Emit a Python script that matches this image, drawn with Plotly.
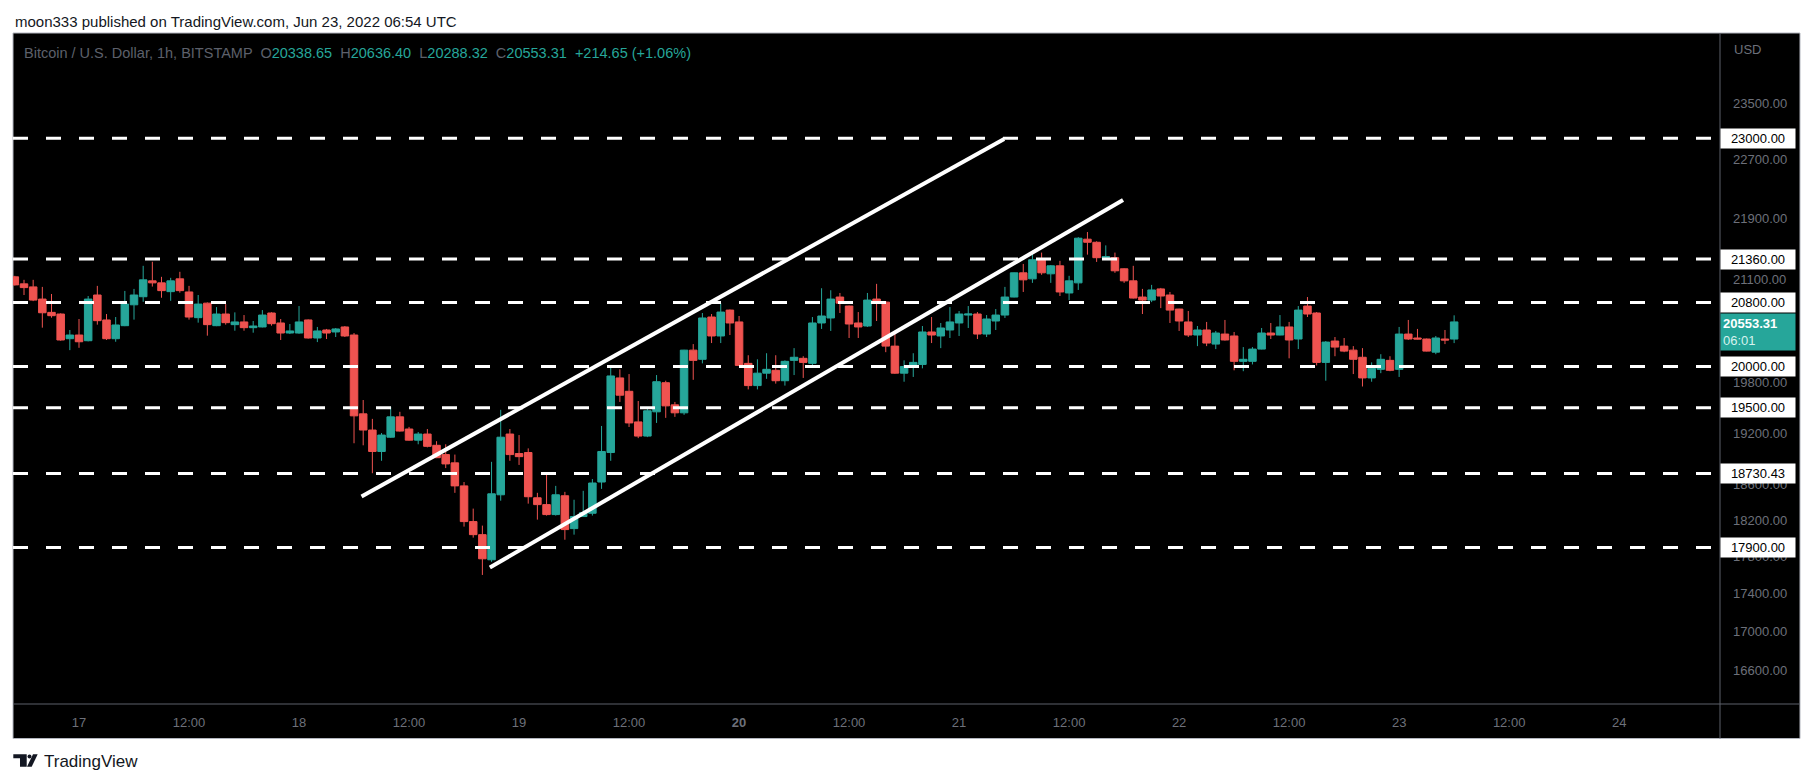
import numpy as np
import pandas as pd
import plotly.graph_objects as go

# BTCUSD 1h, BITSTAMP -- candles from 16 Jun 17:00 to 23 Jun 06:00 UTC
t_start = "2022-06-16 17:00"

opens = [21129, 21038, 20999, 20843, 20674, 20653, 20343, 20389, 20318, 20895,
         20578, 20343, 20506, 20770, 20873, 21077, 21051, 20938, 21103, 20934,
         20607, 20791, 20506, 20653, 20519, 20553, 20481, 20490, 20666, 20540,
         20414, 20414, 20578, 20352, 20452, 20427, 20490, 20389, 19428, 19236,
         18985, 19152, 19392, 19248, 19117, 19189, 19057, 18949, 18853, 18589,
         18187, 18042, 17766, 18488, 19189, 18961, 18973, 18454, 18377, 18265,
         18477, 18109, 18243, 18280, 18633, 18973, 19860, 19698, 19332, 19165,
         19452, 19802, 19535, 19440, 20201, 20088, 20615, 20377, 20703, 20553,
         20038, 19767, 19918, 19953, 19826, 20075, 20100, 20038, 20540, 20603,
         20869, 20754, 20540, 20502, 20843, 20804, 20251, 19918, 20000, 20025,
         20427, 20377, 20452, 20540, 20640, 20653, 20401, 20565, 20640, 20869,
         21181, 21103, 21351, 21168, 21272, 20921, 21051, 21622, 21581, 21378,
         21378, 21233, 21077, 20869, 20830, 20973, 20895, 20716, 20553, 20389,
         20452, 20276, 20401, 20377, 20063, 20063, 20214, 20414, 20389, 20490,
         20339, 20754, 20666, 20050, 20314, 20251, 20201, 20113, 19860, 19965,
         20075, 19965, 20401, 20352, 20339, 20176, 20339, 20338.65]
highs = [21142, 21090, 21090, 20999, 20908, 20662, 20452, 20590, 20882, 21012,
         20653, 20615, 20947, 20973, 21272, 21325, 21129, 21116, 21194, 21012,
         20895, 20800, 20741, 20779, 20674, 20640, 20565, 20703, 20675, 20590,
         20527, 20754, 20585, 20490, 20465, 20477, 20502, 20414, 19593, 19368,
         19201, 19512, 19452, 19273, 19213, 19248, 19105, 19069, 18949, 18633,
         18332, 18142, 18865, 19476, 19248, 19177, 19021, 18510, 18733, 18589,
         18521, 18432, 18533, 18667, 19284, 20000, 19965, 19907, 19581, 19488,
         19895, 19826, 19570, 20205, 20276, 20666, 20653, 20791, 20710, 20628,
         20138, 20088, 20163, 20138, 20075, 20226, 20126, 20615, 20982, 20956,
         20921, 20760, 20678, 20921, 21038, 20817, 20414, 20075, 20163, 20502,
         20615, 20540, 20741, 20691, 20754, 20678, 20640, 20716, 20999, 21185,
         21296, 21472, 21445, 21283, 21337, 21142, 21649, 21717, 21594, 21540,
         21445, 21240, 21272, 20973, 21025, 20986, 20934, 20720, 20691, 20502,
         20553, 20440, 20578, 20427, 20239, 20239, 20477, 20540, 20640, 20553,
         20754, 20869, 20678, 20314, 20364, 20352, 20251, 20226, 20050, 20151,
         20126, 20490, 20578, 20465, 20345, 20377, 20452, 20636.40]
lows = [21016, 20895, 20817, 20481, 20607, 20318, 20201, 20230, 20310, 20519,
        20327, 20305, 20500, 20582, 20808, 21003, 20860, 20821, 20925, 20582,
        20544, 20381, 20500, 20519, 20443, 20443, 20418, 20485, 20506, 20327,
        20401, 20405, 20345, 20301, 20339, 20364, 20364, 19081, 19057, 18734,
        18877, 19145, 19218, 19112, 19069, 19033, 18908, 18793, 18510, 18131,
        18009, 17602, 17744, 18421, 18877, 18829, 18388, 18209, 18254, 18254,
        17986, 18042, 18238, 18254, 18555, 18877, 19570, 19272, 19141, 19153,
        19320, 19380, 19392, 19416, 19837, 20038, 20289, 20289, 20389, 20005,
        19721, 19721, 19849, 19791, 19767, 19895, 19860, 19995, 20465, 20440,
        20666, 20352, 20352, 20490, 20565, 20176, 19910, 19814, 19872, 19977,
        20289, 20226, 20352, 20377, 20477, 20339, 20364, 20452, 20603, 20865,
        20934, 21051, 21155, 21051, 20882, 20830, 20960, 21418, 21323, 21351,
        21181, 21051, 20850, 20653, 20804, 20728, 20540, 20440, 20364, 20251,
        20251, 20214, 20320, 19953, 19942, 20025, 20210, 20339, 20385, 20100,
        20214, 20615, 20013, 19826, 20126, 20176, 19907, 19756, 19814, 19918,
        19942, 19872, 20327, 20335, 20185, 20151, 20276, 20288.32]
closes = [21025, 20990, 20830, 20669, 20632, 20327, 20389, 20305, 20843, 20569,
          20343, 20515, 20779, 20895, 21090, 21051, 20951, 21077, 20951, 20615,
          20779, 20519, 20653, 20544, 20553, 20481, 20502, 20640, 20531, 20414,
          20440, 20553, 20352, 20440, 20414, 20465, 20377, 19404, 19236, 18985,
          19177, 19392, 19224, 19117, 19189, 19045, 18913, 18841, 18589, 18187,
          18042, 17777, 18499, 19152, 18949, 18925, 18466, 18377, 18265, 18488,
          18098, 18243, 18287, 18622, 18985, 19884, 19651, 19320, 19165, 19464,
          19814, 19523, 19440, 20201, 20075, 20603, 20377, 20678, 20540, 20013,
          19767, 19918, 19965, 19826, 20063, 20113, 20050, 20540, 20628, 20843,
          20791, 20527, 20490, 20830, 20791, 20251, 19918, 20000, 20050, 20427,
          20389, 20477, 20553, 20653, 20653, 20401, 20590, 20640, 20869, 21181,
          21090, 21351, 21181, 21272, 20934, 21077, 21635, 21581, 21378, 21391,
          21207, 21077, 20856, 20830, 20960, 20882, 20703, 20565, 20389, 20452,
          20289, 20414, 20327, 20063, 20088, 20214, 20414, 20389, 20490, 20327,
          20703, 20653, 20050, 20301, 20239, 20189, 20088, 19860, 19977, 20088,
          19953, 20401, 20339, 20339, 20189, 20352, 20327, 20553.31]

# horizontal levels drawn on the chart
levels = [23000, 21360, 20800, 20000, 19500, 18730.43, 17900]

# rising channel (two trend lines)
upper_line_t = ["2022-06-18 06:49", "2022-06-21 04:55"]
upper_line_p = [18469, 22990]
lower_line_t = ["2022-06-18 20:49", "2022-06-21 17:53"]
lower_line_p = [17682, 22148]

price_ticks = [23500, 22700, 21900, 21100, 19800, 19200, 18600, 18200,
               17800, 17400, 17000, 16600]
time_ticks = ["2022-06-17 00:00", "2022-06-17 12:00", "2022-06-18 00:00",
              "2022-06-18 12:00", "2022-06-19 00:00", "2022-06-19 12:00",
              "2022-06-20 00:00", "2022-06-20 12:00", "2022-06-21 00:00",
              "2022-06-21 12:00", "2022-06-22 00:00", "2022-06-22 12:00",
              "2022-06-23 00:00", "2022-06-23 12:00", "2022-06-24 00:00"]
time_labels = ["17", "12:00", "18", "12:00", "19", "12:00", "<b>20</b>", "12:00",
               "21", "12:00", "22", "12:00", "23", "12:00", "24"]

times = pd.date_range(t_start, periods=len(opens), freq="h")

UP = "#26a69a"
DOWN = "#ef5350"
AXIS_TXT = "#6d707a"
FONT = "Liberation Sans"

W, H = 1813, 783
L, R, T, B = 13, 93, 33, 79          # plot area edges in page pixels
PW, PH = W - L - R, H - T - B


def px(x):
    return (x - L) / PW


def py(y):
    return (H - B - y) / PH


fig = go.Figure()
fig.add_trace(go.Candlestick(
    x=times, open=opens, high=highs, low=lows, close=closes,
    increasing=dict(line=dict(color=UP, width=1), fillcolor=UP),
    decreasing=dict(line=dict(color=DOWN, width=1), fillcolor=DOWN),
    showlegend=False, hoverinfo="skip",
))
for tt, pp in [(upper_line_t, upper_line_p), (lower_line_t, lower_line_p)]:
    fig.add_trace(go.Scatter(x=tt, y=pp, mode="lines",
                             line=dict(color="white", width=4),
                             showlegend=False, hoverinfo="skip"))

shapes = [
    # black chart panel with its frame
    dict(type="rect", xref="paper", yref="paper", x0=px(13), x1=px(1800),
         y0=py(738.5), y1=py(33), fillcolor="black",
         line=dict(color="#b2b5be", width=1), layer="below"),
    dict(type="line", xref="paper", yref="paper", x0=1, x1=1,
         y0=py(738.5), y1=py(33), line=dict(color="#5d606b", width=1)),
    dict(type="line", xref="paper", yref="paper", x0=0, x1=px(1800),
         y0=0, y1=0, line=dict(color="#5d606b", width=1)),
]
for lv in levels:
    shapes.append(dict(type="line", xref="paper", yref="y", x0=0, x1=1,
                       y0=lv, y1=lv,
                       line=dict(color="white", width=3, dash="15px,18px")))

# TradingView logo mark
logo = [(13.3, 754.3), (26.7, 754.3), (26.7, 766.7), (20, 766.7), (20, 758.3), (13.3, 758.3)]
slash = [(33, 754.3), (37.7, 754.3), (31.7, 766.7), (27, 766.7)]
for pts in (logo, slash):
    path = "M " + " L ".join(f"{px(a):.5f},{py(b):.5f}" for a, b in pts) + " Z"
    shapes.append(dict(type="path", xref="paper", yref="paper", path=path,
                       fillcolor="#131722", line=dict(width=0)))
shapes.append(dict(type="circle", xref="paper", yref="paper",
                   x0=px(27.5), x1=px(31.5), y0=py(758.5), y1=py(754.5),
                   fillcolor="#131722", line=dict(width=0)))

annotations = [
    dict(text="moon333 published on TradingView.com, Jun 23, 2022 06:54 UTC",
         x=px(13), y=py(21.5), xref="paper", yref="paper", xanchor="left",
         yanchor="middle", showarrow=False, font=dict(size=15, color="#131722")),
    dict(text=("<span style='color:#5d606b'>Bitcoin / U.S. Dollar, 1h, BITSTAMP  "
               "O</span>20338.65  <span style='color:#5d606b'>H</span>20636.40  "
               "<span style='color:#5d606b'>L</span>20288.32  "
               "<span style='color:#5d606b'>C</span>20553.31  +214.65 (+1.06%)"),
         x=px(22), y=py(53), xref="paper", yref="paper", xanchor="left",
         yanchor="middle", showarrow=False, font=dict(size=14.5, color=UP)),
    dict(text="USD", x=px(1732), y=py(50), xref="paper", yref="paper",
         xanchor="left", yanchor="middle", showarrow=False,
         font=dict(size=13, color=AXIS_TXT)),
    dict(text="TradingView", x=px(42), y=py(761), xref="paper", yref="paper",
         xanchor="left", yanchor="middle", showarrow=False,
         font=dict(size=17, color="#131722")),
]
for lv in levels:
    annotations.append(dict(text=f"{lv:.2f}", x=1, y=np.log10(lv), xref="paper",
                            yref="y", xanchor="left", yanchor="middle",
                            showarrow=False, bgcolor="white", width=70,
                            borderpad=2, align="center",
                            font=dict(size=13, color="black")))
last = closes[-1]
annotations.append(dict(text=f"<b>{last:.2f}</b><br><span style='color:#d6f2ee'>06:01</span>",
                        x=1, y=np.log10(last), xref="paper", yref="y",
                        xanchor="left", yanchor="top", yshift=9,
                        showarrow=False, bgcolor=UP, width=70, borderpad=2,
                        align="left", font=dict(size=13, color="white")))

fig.update_layout(
    width=W, height=H,
    margin=dict(l=L, r=R, t=T, b=B),
    paper_bgcolor="white", plot_bgcolor="black",
    font=dict(family=FONT),
    boxgap=0.18, boxgroupgap=0,
    shapes=shapes, annotations=annotations,
    xaxis=dict(type="date", range=["2022-06-16 16:48", "2022-06-24 11:00"],
               rangeslider=dict(visible=False), showgrid=False, zeroline=False,
               showline=False, ticks="", tickvals=time_ticks, ticktext=time_labels,
               tickfont=dict(size=13, color=AXIS_TXT), ticklabelstandoff=9,
               automargin=False),
    yaxis=dict(type="log", side="right",
               range=[np.log10(16264), np.log10(24533)],
               showgrid=False, zeroline=False, showline=False, ticks="",
               tickvals=price_ticks, ticktext=[f"{v:.2f}" for v in price_ticks],
               tickfont=dict(size=13, color=AXIS_TXT), ticklabelstandoff=12,
               automargin=False),
)

fig.write_html("out.html", config={"displayModeBar": False},
               post_script="document.body.style.margin='0';")
